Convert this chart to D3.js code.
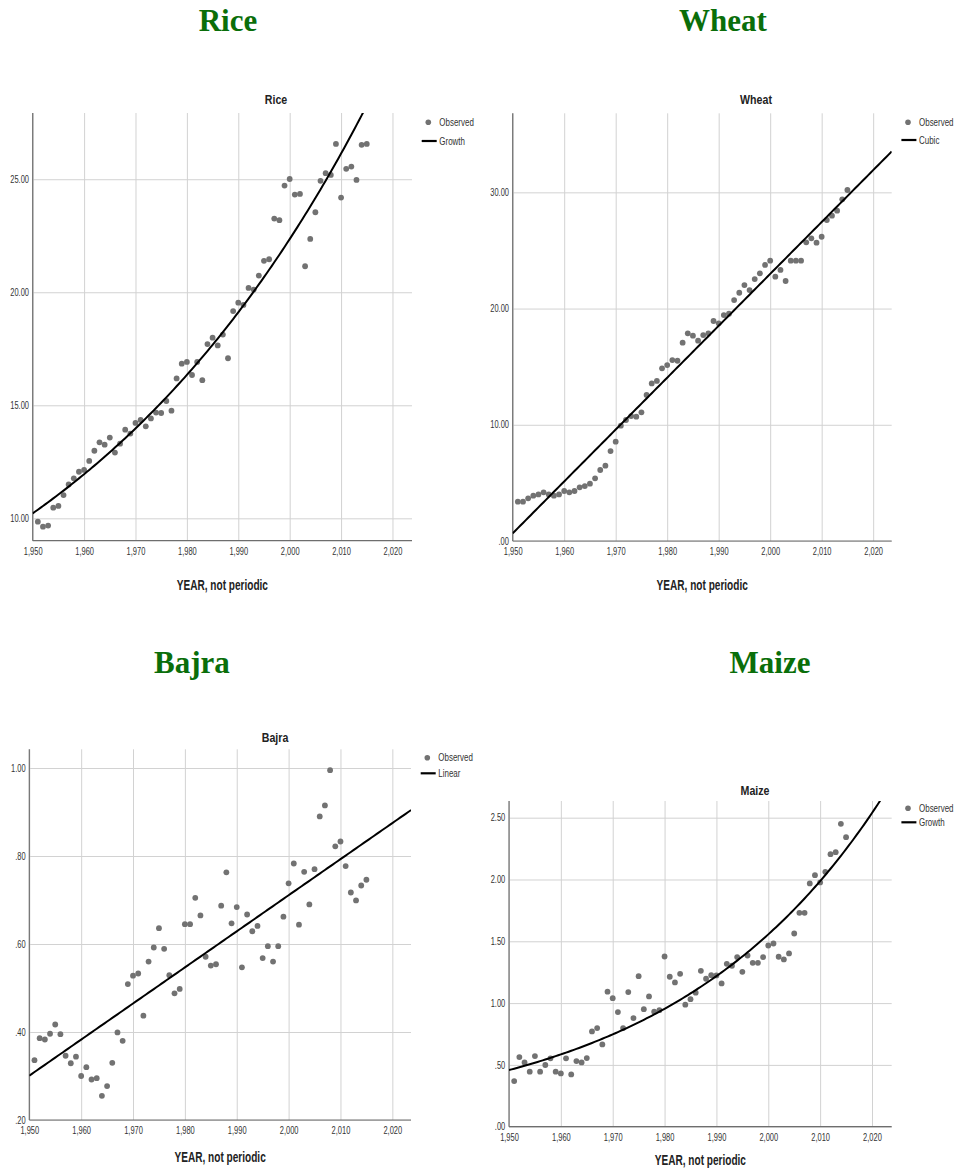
<!DOCTYPE html>
<html>
<head>
<meta charset="utf-8">
<script src="https://cdn.jsdelivr.net/npm/d3@7"></script>
<style>
  html, body { margin: 0; padding: 0; background: #fff; }
  svg { display: block; }
  .heading { font-family: "Liberation Serif", "Times New Roman", serif; font-weight: bold; font-size: 31px; fill: #0a6e0a; }
  .narrow { font-family: "Liberation Sans", Arial, sans-serif; }
  .tick-label { font-size: 10px; fill: #333; }
  .chart-title { font-size: 12.5px; font-weight: bold; fill: #222; }
  .axis-title { font-size: 14px; font-weight: bold; fill: #222; }
  .legend-text { font-size: 10.5px; fill: #333; }
</style>
</head>
<body>
<svg id="chart" width="956" height="1171"></svg>
<script>
// Crop production series, one observation per year
const years = [1951,1952,1953,1954,1955,1956,1957,1958,1959,1960,1961,1962,1963,1964,1965,
  1966,1967,1968,1969,1970,1971,1972,1973,1974,1975,1976,1977,1978,1979,1980,1981,1982,1983,
  1984,1985,1986,1987,1988,1989,1990,1991,1992,1993,1994,1995,1996,1997,1998,1999,2000,2001,
  2002,2003,2004,2005,2006,2007,2008,2009,2010,2011,2012,2013,2014,2015];

const riceValues = [9.85,9.63,9.68,10.47,10.55,11.03,11.50,11.77,12.06,12.14,12.54,12.99,13.36,13.26,13.57,
  12.91,13.30,13.92,13.75,14.22,14.35,14.07,14.42,14.68,14.66,15.19,14.76,16.19,16.84,16.92,16.34,16.92,16.11,
  17.71,17.99,17.65,18.13,17.08,19.17,19.54,19.44,20.19,20.12,20.74,21.39,21.46,23.26,23.19,24.72,25.01,24.32,
  24.35,21.15,22.36,23.54,24.93,25.27,25.19,26.56,24.19,25.46,25.56,24.97,26.52,26.56];

const wheatValues = [3.38,3.38,3.67,3.90,4.01,4.19,4.01,3.90,4.01,4.30,4.19,4.30,4.62,4.73,4.93,
  5.39,6.11,6.48,7.74,8.55,9.92,10.41,10.75,10.70,11.07,12.56,13.56,13.77,14.86,15.14,15.57,15.51,17.06,
  17.87,17.67,17.24,17.72,17.87,18.93,18.73,19.44,19.56,20.73,21.36,22.02,21.59,22.54,23.03,23.75,24.12,22.74,
  23.32,22.37,24.12,24.12,24.12,25.70,26.04,25.67,26.18,27.62,27.99,28.42,29.40,30.20];

const bajraValues = [0.336,0.386,0.383,0.396,0.417,0.395,0.346,0.329,0.344,0.300,0.320,0.292,0.295,0.255,0.277,
  0.330,0.399,0.380,0.509,0.528,0.533,0.437,0.560,0.592,0.636,0.589,0.529,0.488,0.498,0.645,0.645,0.705,0.665,
  0.571,0.551,0.554,0.687,0.763,0.647,0.684,0.547,0.667,0.629,0.641,0.568,0.595,0.560,0.595,0.662,0.738,0.783,
  0.644,0.764,0.690,0.770,0.890,0.915,0.995,0.822,0.833,0.777,0.717,0.699,0.733,0.746];

const maizeValues = [0.369,0.563,0.520,0.445,0.571,0.445,0.499,0.553,0.445,0.431,0.553,0.423,0.531,0.520,0.555,
  0.771,0.798,0.666,1.092,1.040,0.927,0.798,1.089,0.879,1.218,0.951,1.054,0.930,0.943,1.377,1.213,1.167,1.237,
  0.987,1.032,1.084,1.261,1.197,1.226,1.224,1.159,1.318,1.302,1.372,1.253,1.385,1.326,1.326,1.372,1.466,1.482,
  1.375,1.353,1.402,1.563,1.730,1.730,1.968,2.035,1.976,2.062,2.205,2.221,2.450,2.342];

// Tick labels
const yearTicks = [1950,1960,1970,1980,1990,2000,2010,2020];
const riceTicks = [10,15,20,25];
const wheatTicks = [0,10,20,30];
const bajraTicks = [0.2,0.4,0.6,0.8,1.0];
const maizeTicks = [0,0.5,1,1.5,2,2.5];

// Fitted models, t = year - 1950
const riceGrowth = { b0: Math.log(10.22), b1: 0.01565 };      // y = exp(b0 + b1 t)
const wheatCubic = [0.66, 0.4464, 0, 0];                      // y = c0 + c1 t + c2 t^2 + c3 t^3
const bajraLinear = { b0: 0.3008, b1: 0.0082 };               // y = b0 + b1 t
const maizeGrowth = { b0: Math.log(0.458), b1: 0.02446 };     // y = exp(b0 + b1 t)

const models = {
  Growth: p => t => Math.exp(p.b0 + p.b1 * t),
  Cubic: c => t => c[0] + c[1] * t + c[2] * t * t + c[3] * t * t * t,
  Linear: p => t => p.b0 + p.b1 * t
};

const svg = d3.select("#chart");
svg.append("rect").attr("width", 956).attr("height", 1171).attr("fill", "#fff");

const fmtYear = d3.format(",");
const fmtVal = v => d3.format(".2f")(v).replace(/^0\./, ".");

// Horizontally condensed text (narrow sans look)
function narrowText(parent, cls, x, y, sx, str, anchor) {
  return parent.append("text").attr("class", "narrow " + cls)
    .attr("transform", `translate(${x},${y}) scale(${sx},1)`)
    .attr("text-anchor", anchor || "start").text(str);
}

const panels = [
  { name: "Rice", values: riceValues, ticks: riceTicks, model: "Growth", params: riceGrowth,
    heading: [228, 31], title: [276, 104], box: { l: 32.7, r: 412, t: 113, b: 540.7 },
    xMax: 2023.8, yDomain: [9.01, 27.93], legend: { dot: 122.3, line: 141 }, axisTitleY: 590 },
  { name: "Wheat", values: wheatValues, ticks: wheatTicks, model: "Cubic", params: wheatCubic,
    heading: [723, 31], title: [756, 104], box: { l: 512.7, r: 891.7, t: 113.3, b: 541 },
    xMax: 2023.6, yDomain: [0, 36.8], legend: { dot: 122.3, line: 140 }, axisTitleY: 590 },
  { name: "Bajra", values: bajraValues, ticks: bajraTicks, model: "Linear", params: bajraLinear,
    heading: [192, 673], title: [275, 742], box: { l: 29.3, r: 411, t: 749.3, b: 1120 },
    xMax: 2023.6, yDomain: [0.2, 1.0425], legend: { dot: 757.7, line: 773.3 }, axisTitleY: 1162 },
  { name: "Maize", values: maizeValues, ticks: maizeTicks, model: "Growth", params: maizeGrowth,
    heading: [770, 673], title: [755, 795], box: { l: 509, r: 891.7, t: 801, b: 1126.7 },
    xMax: 2023.8, yDomain: [0, 2.635], legend: { dot: 808.3, line: 822.3 }, axisTitleY: 1165 }
];

panels.forEach((p, i) => {
  const { l, r, t, b } = p.box;
  const x = d3.scaleLinear().domain([1950, p.xMax]).range([l, r]);
  const y = d3.scaleLinear().domain(p.yDomain).range([b, t]);
  const g = svg.append("g");

  // Section heading above each chart
  svg.append("text").attr("class", "heading").attr("x", p.heading[0]).attr("y", p.heading[1])
    .attr("text-anchor", "middle").text(p.name);

  // Chart title
  narrowText(g, "chart-title", p.title[0], p.title[1], 0.85, p.name, "middle");

  // Grid lines and tick labels
  const xAxis = d3.axisBottom(x).tickValues(yearTicks).tickSize(-(b - t)).tickFormat(fmtYear).tickPadding(7);
  const yAxis = d3.axisLeft(y).tickValues(p.ticks).tickSize(-(r - l)).tickFormat(fmtVal).tickPadding(5);

  const gx = g.append("g").attr("transform", `translate(0,${b})`).call(xAxis);
  const gy = g.append("g").attr("transform", `translate(${l},0)`).call(yAxis);
  [gx, gy].forEach(a => {
    a.attr("font-family", null).attr("font-size", null);
    a.select(".domain").remove();
    a.selectAll(".tick line").attr("stroke", "#d2d2d2").attr("stroke-width", 1);
    a.selectAll(".tick text").attr("class", "narrow tick-label").attr("fill", "#333")
      .attr("transform", "scale(0.75,1)");
  });

  // Axis lines
  g.append("line").attr("x1", l).attr("x2", l).attr("y1", t).attr("y2", b)
    .attr("stroke", "#6e6e6e").attr("stroke-width", 1.2);
  g.append("line").attr("x1", l).attr("x2", r).attr("y1", b).attr("y2", b)
    .attr("stroke", "#6e6e6e").attr("stroke-width", 1.2);

  // Observed points
  g.append("g").selectAll("circle").data(years.map((yr, k) => [yr, p.values[k]]))
    .join("circle")
    .attr("cx", d => x(d[0])).attr("cy", d => y(d[1])).attr("r", 2.9)
    .attr("fill", "#727272");

  // Fitted curve, clipped to the plot area
  const clipId = "clip" + i;
  svg.append("clipPath").attr("id", clipId).append("rect")
    .attr("x", l).attr("y", t).attr("width", r - l).attr("height", b - t);
  const f = models[p.model](p.params);
  const samples = d3.range(0, p.xMax - 1950 + 0.001, 0.5).concat([p.xMax - 1950]);
  const line = d3.line().x(d => x(1950 + d)).y(d => y(f(d)));
  g.append("path").datum(samples).attr("d", line)
    .attr("clip-path", `url(#${clipId})`)
    .attr("fill", "none").attr("stroke", "#000").attr("stroke-width", 2);

  // Legend
  const lg = g.append("g");
  lg.append("circle").attr("cx", r + 16.3).attr("cy", p.legend.dot).attr("r", 2.8).attr("fill", "#727272");
  narrowText(lg, "legend-text", r + 27.3, p.legend.dot + 3.7, 0.76, "Observed");
  lg.append("line").attr("x1", r + 9.7).attr("x2", r + 24.7).attr("y1", p.legend.line).attr("y2", p.legend.line)
    .attr("stroke", "#000").attr("stroke-width", 2.2);
  narrowText(lg, "legend-text", r + 27.3, p.legend.line + 3.7, 0.76, p.model);

  // X axis title
  narrowText(g, "axis-title", (l + r) / 2, p.axisTitleY, 0.72, "YEAR, not periodic", "middle");
});
</script>
</body>
</html>
